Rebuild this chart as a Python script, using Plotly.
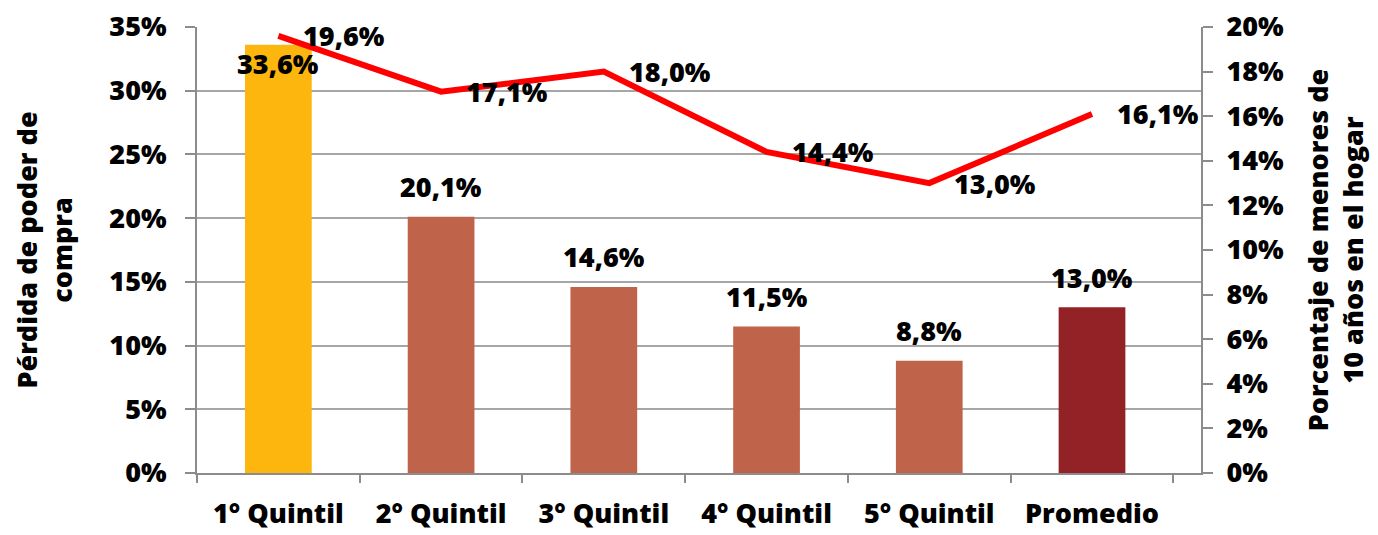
import plotly.graph_objects as go

categories = ["1° Quintil", "2° Quintil", "3° Quintil", "4° Quintil", "5° Quintil", "Promedio"]
perdida = [33.6, 20.1, 14.6, 11.5, 8.8, 13.0]
menores = [19.6, 17.1, 18.0, 14.4, 13.0, 16.1]
bar_colors = ["#FDB60D", "#C0634B", "#C0634B", "#C0634B", "#C0634B", "#932226"]

FONT = "Open Sans"
GRAY = "#8c8c8c"
TXT = dict(family=FONT, size=27, color="black", weight=800)


def pct(v):
    return f"{v:.1f}".replace(".", ",") + "%"


fig = go.Figure()

fig.add_trace(go.Bar(
    x=categories, y=perdida, marker_color=bar_colors, marker_line_width=0,
    yaxis="y", showlegend=False, hoverinfo="skip",
))

fig.add_trace(go.Scatter(
    x=categories, y=menores, mode="lines", yaxis="y2",
    line=dict(color="#FF0000", width=6), showlegend=False, hoverinfo="skip",
))

annotations = []
# bar labels: above the bar, except the first one which sits inside the top
for i, (c, v) in enumerate(zip(categories, perdida)):
    annotations.append(dict(
        x=c, y=v, xref="x", yref="y", text=pct(v), showarrow=False,
        yshift=-19 if i == 0 else 30, font=TXT,
    ))
# line labels: to the right of each point
for c, v in zip(categories, menores):
    annotations.append(dict(
        x=c, y=v, xref="x", yref="y2", text=pct(v), showarrow=False,
        xanchor="left", xshift=23, font=TXT,
    ))

# page body has an 8px margin, so the figure is a little smaller than the window
fig.update_layout(
    width=1370, height=527,
    margin=dict(l=189, r=177, t=19, b=62, autoexpand=False),
    paper_bgcolor="white", plot_bgcolor="white",
    bargap=0.59,
    font=TXT,
    annotations=annotations,
    xaxis=dict(
        showline=True, linecolor=GRAY, linewidth=2,
        ticks="outside", tickson="boundaries", ticklen=8, tickcolor=GRAY, tickwidth=2,
        ticklabelstandoff=16,
        tickfont=TXT,
        ticklabeloverflow="allow",
    ),
    yaxis=dict(
        range=[0, 35], dtick=5, ticksuffix="%",
        showline=True, linecolor=GRAY, linewidth=2,
        showgrid=True, gridcolor="#a6a6a6", gridwidth=2,
        ticks="outside", ticklen=10, tickcolor=GRAY, tickwidth=2,
        ticklabelstandoff=13, ticklabeloverflow="allow",
        tickfont=TXT,
        title=dict(text="Pérdida de poder de<br>compra", standoff=30, font=TXT),
        zeroline=False,
    ),
    yaxis2=dict(
        range=[0, 20], dtick=2, ticksuffix="%", overlaying="y", side="right",
        showline=True, linecolor=GRAY, linewidth=2, showgrid=False,
        ticks="outside", ticklen=10, tickcolor=GRAY, tickwidth=2,
        ticklabelstandoff=8, ticklabeloverflow="allow",
        tickfont=TXT,
        title=dict(text="Porcentaje de menores de<br>10 años en el hogar", standoff=26, font=TXT),
        zeroline=False,
    ),
)

fig.write_html("out.html")
